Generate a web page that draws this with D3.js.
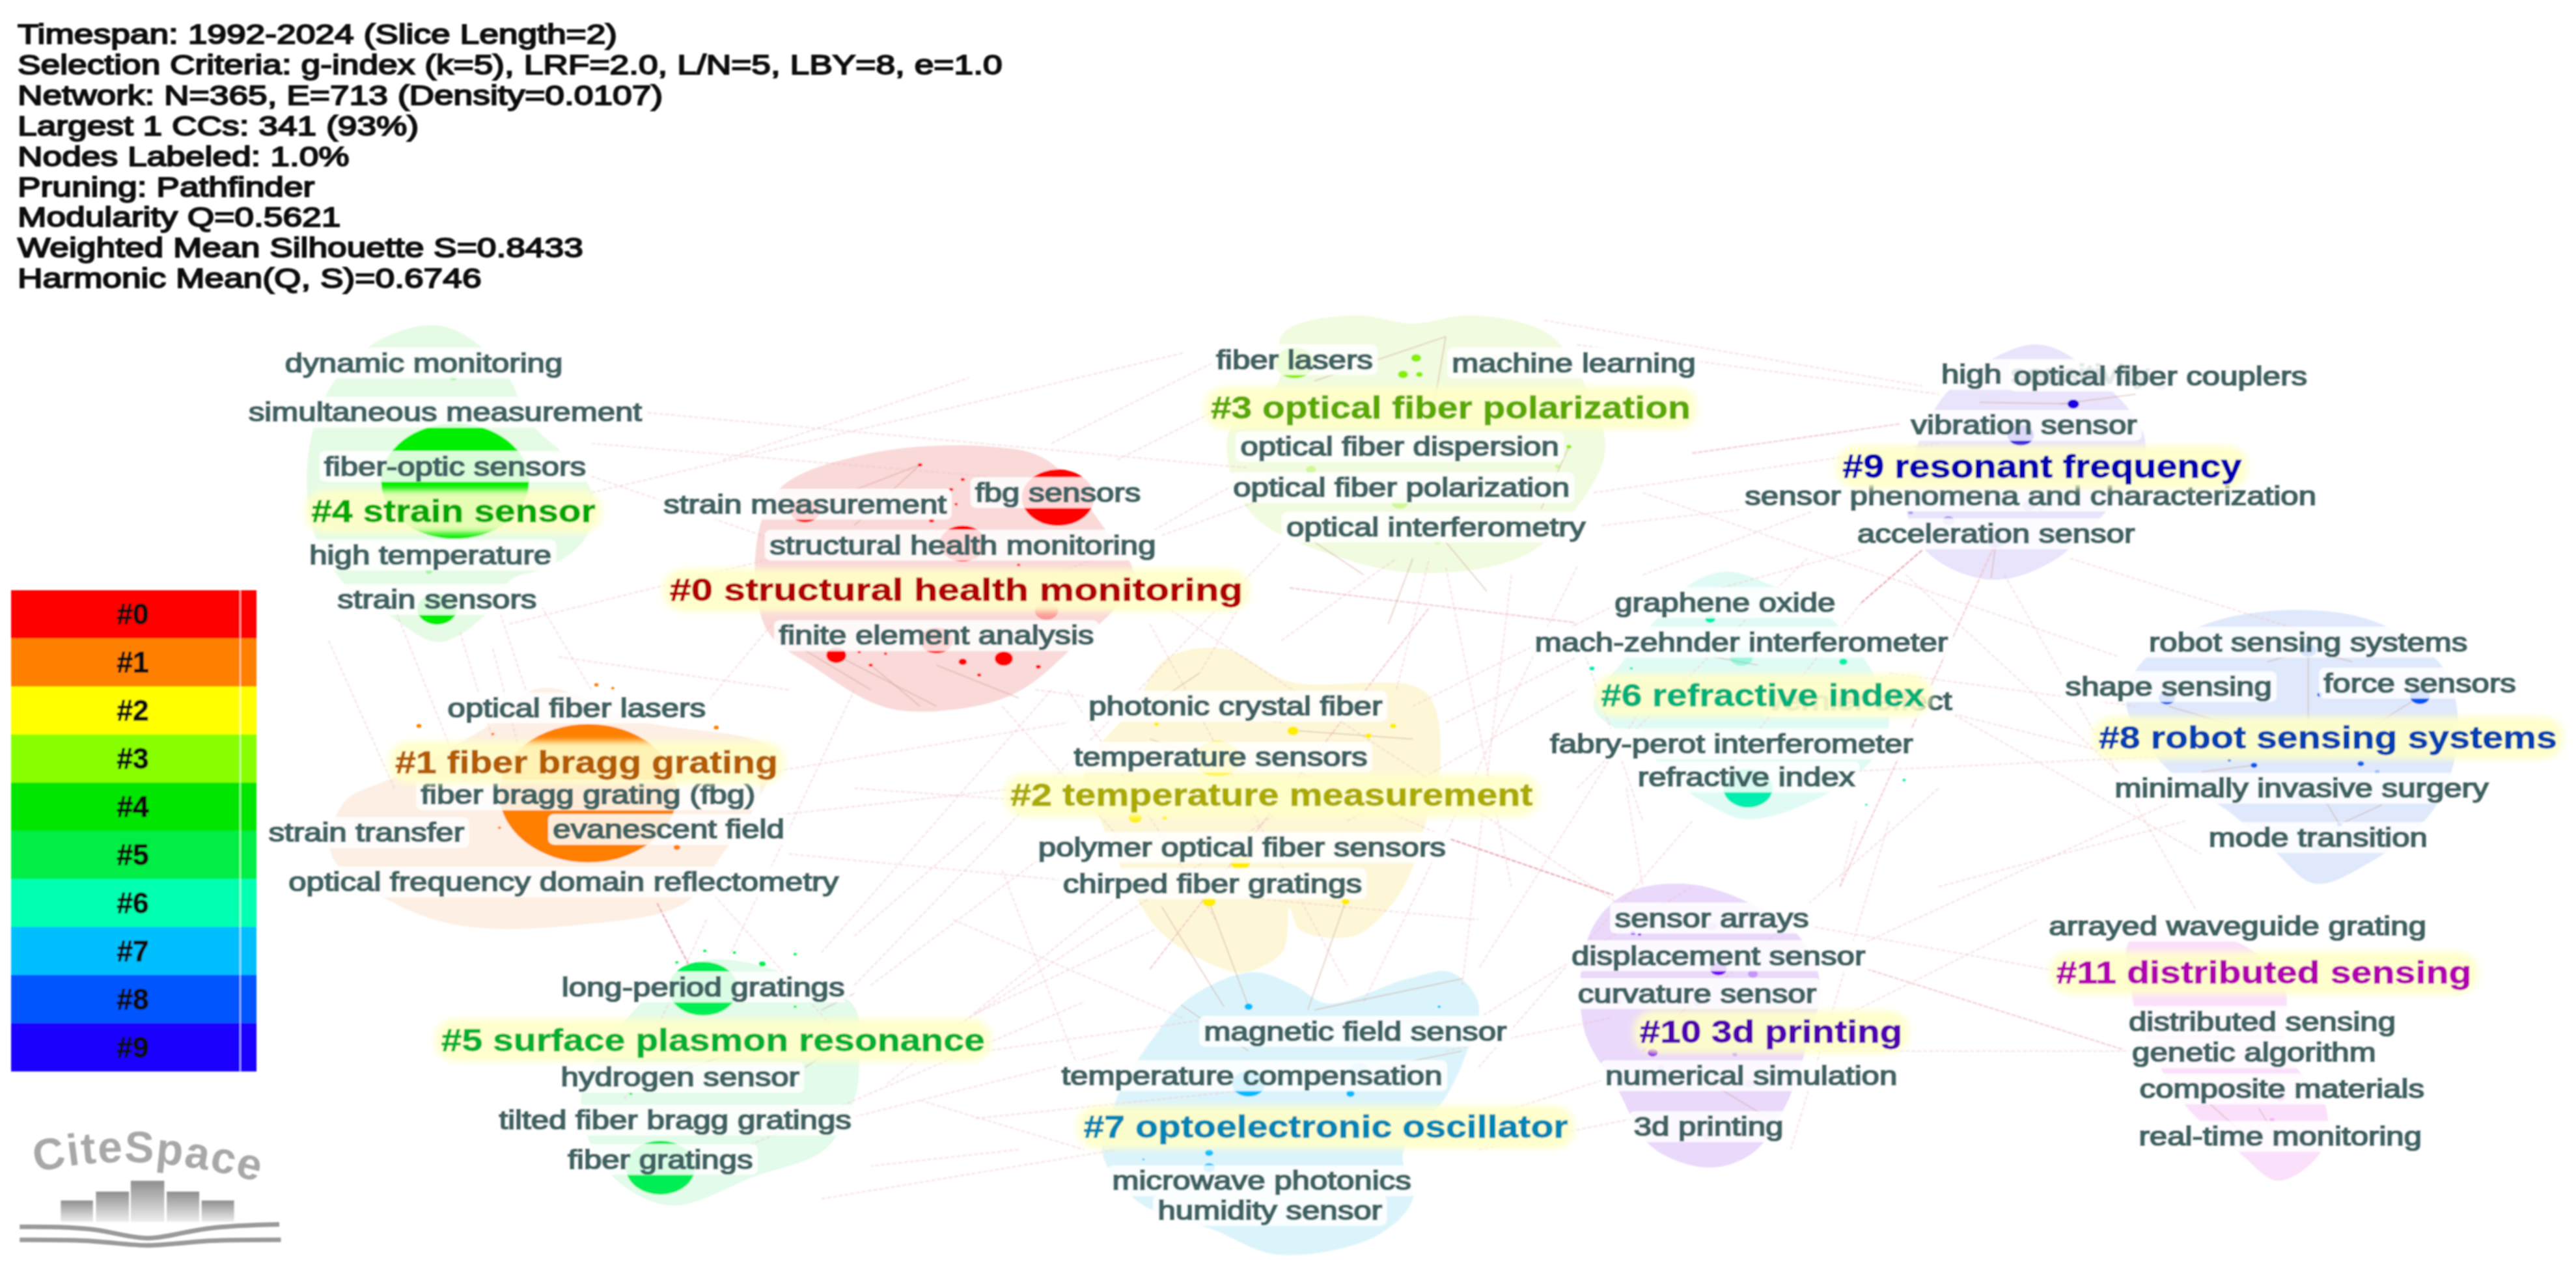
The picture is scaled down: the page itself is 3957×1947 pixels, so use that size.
<!DOCTYPE html>
<html>
<head>
<meta charset="utf-8">
<script src="https://cdn.jsdelivr.net/npm/d3@7"></script>
<style>
  body { margin: 0; background: #fff; }
  text { font-family: "Liberation Sans", Arial, sans-serif; }
</style>
</head>
<body>
<div id="chart"></div>
<script>
// summary lines top left
const summaryLines = [
  'Timespan: 1992-2024 (Slice Length=2)',
  'Selection Criteria: g-index (k=5), LRF=2.0, L/N=5, LBY=8, e=1.0',
  'Network: N=365, E=713 (Density=0.0107)',
  'Largest 1 CCs: 341 (93%)',
  'Nodes Labeled: 1.0%',
  'Pruning: Pathfinder',
  'Modularity Q=0.5621',
  'Weighted Mean Silhouette S=0.8433',
  'Harmonic Mean(Q, S)=0.6746'
]

// legend
const legendLabels = ['#0', '#1', '#2', '#3', '#4', '#5', '#6', '#7', '#8', '#9']
const legendColors = ['#ff0000', '#ff8000', '#ffff00', '#88ff00', '#00e600', '#00ee44', '#00ffb0', '#00bfff', '#0055ff', '#1a00ff']

// cluster colours: node, hull, title
const clusterNode = ['#ff0000', '#ff8000', '#ffee00', '#88ee00', '#00ee00', '#00ee55', '#00eeb0', '#00bbff', '#0055ee', '#1a00dd', '#7700ee', '#dd44dd']
const clusterHull = ['#fad9d9', '#fdefe3', '#fdf7d8', '#f1fbdf', '#e6fbe6', '#e2fbea', '#e0fbf5', '#dbf4fb', '#dfe9fb', '#e9e3fb', '#ead9fb', '#fbe0fb']
const clusterTitleColor = ['#b00000', '#b35c00', '#aaaa00', '#5aa800', '#00a800', '#00b030', '#00b078', '#0085b5', '#0040b0', '#0000b0', '#5000b0', '#b000b0']

// cluster titles (map units: text centre and drawn width)
const clusterTitles = ['#0 structural health monitoring', '#1 fiber bragg grating', '#2 temperature measurement', '#3 optical fiber polarization', '#4 strain sensor', '#5 surface plasmon resonance', '#6 refractive index', '#7 optoelectronic oscillator', '#8 robot sensing systems', '#9 resonant frequency', '#10 3d printing', '#11 distributed sensing']
const clusterTitleX = [582, 357, 774, 883, 276, 434, 1073, 807, 1417, 1243, 1078, 1378]
const clusterTitleY = [359, 464, 484, 248, 311, 633, 423, 686, 449, 284, 628, 592]
const clusterTitleW = [349, 233, 318, 292, 173, 331, 197, 295, 279, 243, 160, 253]

// keyword labels
const keywords = ['dynamic monitoring', 'simultaneous measurement', 'fiber-optic sensors', 'high temperature', 'strain sensors',
  'strain measurement', 'fbg sensors', 'structural health monitoring', 'finite element analysis',
  'optical fiber lasers', 'fiber bragg grating (fbg)', 'strain transfer', 'evanescent field', 'optical frequency domain reflectometry',
  'long-period gratings', 'hydrogen sensor', 'tilted fiber bragg gratings', 'fiber gratings',
  'fiber lasers', 'machine learning', 'optical fiber dispersion', 'optical fiber polarization', 'optical interferometry',
  'photonic crystal fiber', 'temperature sensors', 'polymer optical fiber sensors', 'chirped fiber gratings',
  'graphene oxide', 'mach-zehnder interferometer', 'vernier effect', 'fabry-perot interferometer', 'refractive index',
  'magnetic field sensor', 'temperature compensation', 'microwave photonics', 'humidity sensor',
  'sensor arrays', 'displacement sensor', 'curvature sensor', 'numerical simulation', '3d printing',
  'high sensitivity', 'optical fiber couplers', 'vibration sensor', 'sensor phenomena and characterization', 'acceleration sensor',
  'robot sensing systems', 'shape sensing', 'force sensors', 'minimally invasive surgery', 'mode transition',
  'arrayed waveguide grating', 'distributed sensing', 'genetic algorithm', 'composite materials', 'real-time monitoring']
const keywordX = [258, 271, 277, 262, 266,
  490, 644, 586, 570,
  351, 358, 223, 407, 343,
  428, 414, 411, 402,
  788, 958, 852, 853, 874,
  752, 743, 756, 738,
  1050, 1060, 1132, 1054, 1063,
  825, 762, 768, 773,
  1042, 1046, 1033, 1066, 1040,
  1245, 1315, 1232, 1236, 1215,
  1405, 1320, 1473, 1401, 1411,
  1362, 1377, 1372, 1389, 1388]
const keywordY = [221, 251, 284, 338, 365,
  307, 300, 332, 387,
  431, 484, 507, 505, 537,
  601, 656, 682, 706,
  219, 221, 272, 297, 321,
  430, 461, 516, 538,
  367, 391, 427, 453, 473,
  628, 655, 719, 737,
  559, 582, 605, 655, 686,
  228, 229, 259, 302, 325,
  391, 418, 416, 480, 510,
  564, 622, 641, 663, 692]

// hull outlines, one list per cluster
const hull0 = [[604, 272], [637, 280], [671, 320], [690, 352], [650, 397], [620, 421], [588, 431], [540, 431], [495, 406], [467, 384], [460, 336], [474, 298], [530, 276]]
const hull1 = [[329, 419], [389, 439], [470, 457], [460, 490], [439, 521], [417, 550], [354, 563], [283, 564], [240, 550], [202, 521], [209, 489], [240, 473], [294, 444]]
const hull2 = [[710, 401], [745, 395], [785, 415], [867, 421], [877, 461], [868, 500], [860, 528], [847, 551], [824, 570], [791, 566], [785, 553], [781, 579], [758, 592], [742, 589], [709, 570], [693, 549], [670, 500], [660, 470], [690, 430]]
const hull3 = [[781, 203], [824, 192], [860, 197], [896, 192], [942, 203], [962, 229], [977, 268], [972, 290], [932, 336], [867, 349], [811, 338], [765, 316], [749, 288], [749, 260], [778, 233]]
const hull4 = [[265, 198], [286, 206], [311, 232], [320, 254], [354, 288], [362, 310], [354, 331], [332, 346], [311, 353], [295, 375], [267, 391], [237, 375], [212, 358], [191, 324], [187, 283], [193, 254], [205, 230], [233, 206]]
const hull5 = [[428, 585], [485, 595], [520, 613], [523, 648], [520, 669], [502, 700], [460, 716], [407, 734], [368, 711], [354, 666], [389, 612]]
const hull6 = [[1051, 348], [1075, 355], [1116, 378], [1150, 435], [1140, 462], [1109, 485], [1064, 499], [1040, 490], [1025, 480], [1000, 455], [970, 430], [990, 400], [1010, 375], [1030, 355]]
const hull7 = [[762, 592], [788, 600], [808, 611], [857, 596], [883, 592], [900, 611], [893, 640], [880, 668], [854, 702], [860, 730], [837, 753], [778, 764], [739, 749], [693, 732], [671, 702], [680, 668], [702, 632], [725, 607]]
const hull8 = [[1356, 376], [1438, 376], [1486, 405], [1496, 435], [1493, 467], [1479, 496], [1441, 526], [1409, 538], [1384, 518], [1359, 496], [1318, 467], [1294, 428], [1304, 403]]
const hull9 = [[1243, 210], [1266, 221], [1304, 262], [1304, 285], [1287, 306], [1249, 342], [1212, 353], [1174, 337], [1160, 306], [1181, 244], [1222, 214]]
const hull10 = [[988, 545], [1021, 538], [1054, 545], [1095, 570], [1108, 600], [1100, 636], [1087, 673], [1067, 702], [1040, 711], [1005, 698], [985, 664], [964, 626], [967, 570]]
const hull11 = [[1297, 572], [1360, 573], [1390, 600], [1392, 640], [1416, 675], [1413, 701], [1387, 719], [1362, 701], [1330, 673], [1308, 636], [1298, 608]]
const hulls = [hull0, hull1, hull2, hull3, hull4, hull5, hull6, hull7, hull8, hull9, hull10, hull11]

// nodes
const nodeCluster = [0, 0, 0, 0, 0, 0, 0, 0, 0, 0, 0, 0, 0, 0, 0, 0, 0, 0,
  1, 1, 1, 1, 1, 1, 1, 1,
  2, 2, 2, 2, 2, 2, 2, 2, 2, 2,
  3, 3, 3, 3, 3,
  4, 4,
  5, 5, 5, 5, 5, 5, 5, 5, 5, 5,
  6, 6, 6, 6, 6, 6, 6,
  7, 7, 7, 7, 7, 7, 7,
  8, 8, 8, 8, 8, 8, 8, 8,
  9, 9,
  10, 10, 10, 10,
  11]
const nodeX = [644, 490, 586, 570, 509, 611, 586, 632, 596, 523, 539, 530, 560, 586, 579, 582, 567, 620,
  358, 363, 373, 255, 436, 300, 304, 412,
  741, 704, 787, 833, 848, 691, 709, 736, 819, 755,
  788, 862, 854, 864, 955,
  277, 266,
  428, 402, 429, 447, 484, 412, 464, 484, 515, 384,
  1064, 1041, 969, 993, 1122, 1159, 1136,
  760, 760, 876, 822, 736, 696, 736,
  1405, 1319, 1473, 1412, 1357, 1372, 1437, 1424,
  1262, 1230,
  994, 998, 1006, 1046,
  1388]
const nodeY = [303, 311, 331, 390, 399, 401, 403, 406, 411, 397, 398, 405, 283, 292, 298, 307, 317, 344,
  483, 417, 419, 442, 443, 447, 504, 516,
  462, 441, 445, 448, 442, 498, 498, 549, 549, 525,
  221, 218, 228, 228, 272,
  293, 371,
  602, 711, 579, 580, 581, 586, 587, 613, 609, 666,
  480, 377, 407, 407, 403, 475, 490,
  613, 660, 613, 666, 702, 706, 711,
  396, 425, 424, 423, 463, 466, 465, 502,
  246, 265,
  568, 569, 641, 590,
  668]
const nodeR = [22, 9, 14, 10, 6, 5.5, 2.5, 1.5, 1.2, 1, 1, 1.2, 1.3, 1.2, 1.2, 1, 1.5, 1,
  54, 1.3, 1, 1.5, 1.5, 1, 1, 2,
  14, 1.5, 3.5, 2, 2, 4, 1.5, 4, 2.5, 6,
  12, 3, 3, 2, 1.5,
  45, 12,
  21, 21, 1, 1, 1, 1, 2, 1, 1, 1,
  15, 3, 1.5, 1, 2.5, 1, 0.7,
  2.5, 10, 1, 2.5, 2.5, 0.7, 3.5,
  5, 5, 6, 1.5, 1, 2, 2, 1.5,
  3.5, 8,
  1.5, 1, 3, 5,
  3]

// faded nodes seen through the haze
const paleCluster = [0, 3, 3, 3, 3, 4, 4, 4, 6, 7, 7, 8, 8, 8, 9, 9, 9, 9, 9, 9, 10, 10, 10, 10, 10, 10, 10, 10, 10, 11, 11, 11, 11]
const paleX = [637, 852, 798, 948, 875, 276, 256, 261, 1060, 824, 827, 1400, 1410, 1447, 1235, 1242, 1163, 1186, 1215, 1316, 1042, 1067, 1065, 1009, 1011, 985, 1033, 1039, 1056, 1362, 1376, 1383, 1388]
const paleY = [372, 306, 286, 284, 330, 230, 227, 348, 400, 632, 651, 485, 516, 470, 308, 310, 312, 317, 330, 235, 564, 593, 660, 661, 650, 610, 611, 692, 642, 569, 625, 682, 696]
const paleR = [7, 5, 3, 1.5, 2, 2, 2, 2, 7, 4, 5, 3, 3, 1.5, 4, 1.5, 1.5, 3.5, 5, 3, 3, 3, 3, 2, 2, 2, 2, 2.5, 1.5, 2, 3, 1.5, 2]

// edges, map units: x1, y1, x2, y2
const edgesStrong = [
  [883, 511, 982, 545], [400, 550, 419, 587], [1170, 335, 1133, 367]
]
const edgesMedium = [
  [785, 358, 958, 379], [1136, 590, 1292, 639], [1030, 276, 1157, 258], [700, 590, 870, 370], [1215, 330, 1120, 540]
]
const edgesLong = [
  [790, 470, 883, 511], [1133, 367, 1050, 470], [594, 617, 703, 566], [594, 681, 758, 664], [958, 379, 1000, 500],
  [360, 270, 600, 290], [380, 250, 760, 285], [360, 290, 475, 330], [310, 380, 470, 340],
  [320, 420, 300, 360], [360, 420, 330, 370], [445, 580, 520, 420], [500, 580, 640, 420],
  [540, 660, 700, 530], [530, 600, 650, 510], [520, 680, 680, 640], [620, 700, 530, 710],
  [780, 390, 850, 340], [850, 420, 870, 340], [920, 540, 880, 345], [1000, 350, 1160, 290],
  [970, 300, 1180, 270], [975, 320, 1150, 300], [1150, 330, 1040, 360], [1130, 420, 1290, 460],
  [1150, 410, 1300, 430], [1120, 470, 1330, 460], [1180, 480, 1000, 640], [1120, 540, 1130, 500],
  [900, 620, 1030, 540], [880, 640, 980, 620], [905, 680, 1000, 650], [1110, 640, 1300, 640],
  [1100, 590, 1340, 480], [1160, 350, 1300, 480], [630, 420, 780, 440], [640, 350, 780, 300],
  [690, 330, 760, 290], [650, 420, 740, 560], [610, 430, 690, 520], [860, 430, 1000, 360],
  [820, 500, 960, 420], [880, 440, 960, 400], [520, 480, 660, 490], [440, 500, 620, 480],
  [470, 470, 650, 440], [430, 540, 520, 640], [600, 640, 740, 620],
  [520, 600, 780, 330], [560, 640, 800, 480], [580, 560, 720, 620], [610, 530, 660, 660],
  [480, 520, 900, 560], [680, 350, 1000, 560], [700, 380, 820, 600], [760, 360, 730, 410],
  [920, 350, 890, 600], [960, 345, 830, 610], [1000, 430, 900, 590], [1030, 500, 900, 650],
  [990, 480, 1000, 540], [960, 480, 1100, 340], [1150, 500, 1090, 700], [1180, 430, 1340, 520],
  [1220, 350, 1340, 560], [1260, 340, 1420, 390], [1080, 560, 1300, 600], [1120, 620, 1240, 560],
  [1180, 540, 1330, 500], [1000, 300, 1290, 400], [960, 210, 1180, 240], [940, 195, 1170, 235],
  [680, 280, 760, 240], [640, 270, 740, 220], [440, 280, 590, 230], [360, 300, 720, 215],
  [340, 400, 480, 420], [420, 440, 470, 380], [200, 390, 240, 480], [300, 395, 330, 510],
  [240, 370, 280, 470], [280, 385, 300, 450], [430, 560, 380, 670], [520, 570, 600, 500],
  [450, 700, 660, 610], [500, 730, 680, 700], [560, 670, 660, 700], [900, 700, 1000, 680]
]
const edgesInner = [
  [880, 205, 872, 252], [880, 205, 800, 232], [955, 272, 938, 310], [880, 330, 905, 360], [860, 340, 845, 380], [800, 330, 830, 350],
  [736, 549, 760, 613], [707, 552, 745, 613], [819, 549, 796, 615], [700, 430, 730, 410], [700, 450, 760, 470], [790, 445, 860, 450],
  [719, 612, 760, 640], [760, 628, 880, 620], [800, 615, 890, 596], [840, 650, 890, 640],
  [1254, 246, 1300, 240], [1205, 245, 1262, 246], [1215, 330, 1212, 352],
  [1380, 403, 1405, 396], [1405, 396, 1432, 403], [1405, 396, 1405, 445], [1320, 430, 1370, 445], [1440, 445, 1473, 424],
  [1415, 487, 1424, 502], [1424, 502, 1450, 490], [1372, 466, 1340, 470],
  [1043, 400, 1070, 405], [1000, 445, 1050, 445], [390, 660, 450, 640], [490, 650, 520, 630], [500, 615, 520, 605],
  [520, 320, 560, 283], [490, 310, 560, 283], [509, 399, 570, 430], [530, 405, 560, 430], [570, 405, 620, 425], [480, 390, 530, 420],
  [1040, 600, 1000, 640], [1042, 660, 1075, 680], [1375, 675, 1388, 696], [1345, 672, 1365, 690]
]

const W = 3957
const H = 1947
const stretch = 1.23 // the whole source picture was pulled wider, text included
// map units are the picture at 1568 wide
const x = d3.scaleLinear().domain([0, 1568]).range([0, W])
const y = d3.scaleLinear().domain([0, 771.5]).range([0, H])

const svg = d3.select('#chart')
  .append('svg')
  .attr('width', W)
  .attr('height', H)
  .style('display', 'block')
  .style('background', '#fff')

const defs = svg.append('defs')
defs.append('filter').attr('id', 'soft').append('feGaussianBlur').attr('stdDeviation', 1.1)
const glow = defs.append('filter').attr('id', 'glow')
  .attr('x', '-10%').attr('y', '-30%').attr('width', '120%').attr('height', '160%')
glow.append('feGaussianBlur').attr('stdDeviation', 5)
const barGrad = defs.append('linearGradient').attr('id', 'bar').attr('x1', 0).attr('x2', 0).attr('y1', 0).attr('y2', 1)
barGrad.append('stop').attr('offset', 0).attr('stop-color', '#8f8f8f')
barGrad.append('stop').attr('offset', 1).attr('stop-color', '#eeeeee')

const root = svg.append('g').attr('filter', 'url(#soft)')

// hulls
const hullLine = d3.line().x(d => x(d[0])).y(d => y(d[1])).curve(d3.curveCatmullRomClosed.alpha(0.5))
root.append('g').selectAll('path').data(hulls).join('path')
  .attr('d', d => hullLine(d))
  .attr('fill', (d, i) => clusterHull[i])

// edges
function drawEdges(data, color, width, dash, op) {
  root.append('g').selectAll('line').data(data).join('line')
    .attr('x1', d => x(d[0])).attr('y1', d => y(d[1]))
    .attr('x2', d => x(d[2])).attr('y2', d => y(d[3]))
    .attr('stroke', color)
    .attr('stroke-width', width)
    .attr('stroke-dasharray', dash)
    .attr('opacity', op)
}
drawEdges(edgesLong, '#f0bcc4', 2.4, '6 3', 0.42)
drawEdges(edgesMedium, '#f0bcc4', 2.4, '7 2', 0.7)
drawEdges(edgesStrong, '#e79aa8', 2.5, '7 2', 0.8)
drawEdges(edgesInner, '#c89a88', 2, null, 0.4)

// nodes, the source picture is wider than tall so they come out as ellipses
function drawNodes(radii, cluster, xs, ys, op) {
  root.append('g').selectAll('ellipse').data(radii).join('ellipse')
    .attr('cx', (d, i) => x(xs[i]))
    .attr('cy', (d, i) => y(ys[i]))
    .attr('rx', d => x(d))
    .attr('ry', d => x(d) * 0.78)
    .attr('fill', (d, i) => clusterNode[cluster[i]])
    .attr('opacity', op)
}
drawNodes(paleR, paleCluster, paleX, paleY, 0.3)
drawNodes(nodeR, nodeCluster, nodeX, nodeY, 1)

// keyword labels
const labelSize = 40
const labels = root.append('g')
keywords.forEach((k, i) => {
  const g = labels.append('g')
    .attr('transform', `translate(${x(keywordX[i])},${y(keywordY[i])}) scale(${stretch},1)`)
  const t = g.append('text')
    .attr('text-anchor', 'middle')
    .attr('dominant-baseline', 'central')
    .attr('font-size', labelSize)
    .attr('fill', '#3f6364')
    .attr('stroke', '#3f6364')
    .attr('stroke-width', 2.1)
    .text(k)
  const b = t.node().getBBox()
  g.insert('rect', 'text')
    .attr('x', b.x - 6).attr('y', b.y - 1)
    .attr('width', b.width + 12).attr('height', b.height + 2)
    .attr('rx', 8)
    .attr('fill', '#fff')
    .attr('opacity', 0.85)
})

// cluster titles, each stretched to the width it has in the picture
const titleSize = 49
const titles = root.append('g')
clusterTitles.forEach((k, i) => {
  const g = titles.append('g')
  const t = g.append('text')
    .attr('text-anchor', 'middle')
    .attr('dominant-baseline', 'central')
    .attr('font-size', titleSize)
    .attr('font-weight', 'bold')
    .attr('fill', clusterTitleColor[i])
    .attr('stroke', clusterTitleColor[i])
    .attr('stroke-width', 0.8)
    .text(k)
  const b = t.node().getBBox()
  const sx = x(clusterTitleW[i]) / b.width
  g.attr('transform', `translate(${x(clusterTitleX[i])},${y(clusterTitleY[i])}) scale(${sx},1)`)
  g.insert('rect', 'text')
    .attr('x', b.x - 8).attr('y', b.y - 5)
    .attr('width', b.width + 16).attr('height', b.height + 12)
    .attr('rx', 28)
    .attr('fill', '#ffffc8')
    .attr('opacity', 0.9)
    .attr('filter', 'url(#glow)')
})

// summary text
root.append('g').selectAll('text').data(summaryLines).join('text')
  .attr('transform', (d, i) => `translate(27,${67 + i * 46.9}) scale(1.24,1)`)
  .attr('font-size', 43)
  .attr('fill', '#111')
  .attr('stroke', '#111')
  .attr('stroke-width', 2)
  .text(d => d)

// legend
const legendY = d3.scaleBand().domain(legendLabels).range([907, 1646])
const legend = root.append('g')
legend.selectAll('rect').data(legendLabels).join('rect')
  .attr('x', 17)
  .attr('y', d => legendY(d))
  .attr('width', 377)
  .attr('height', legendY.bandwidth() + 0.5)
  .attr('fill', (d, i) => legendColors[i])
legend.append('line')
  .attr('x1', 369).attr('x2', 369).attr('y1', 907).attr('y2', 1646)
  .attr('stroke', '#fff').attr('stroke-width', 2).attr('opacity', 0.6)
legend.selectAll('text').data(legendLabels).join('text')
  .attr('x', 204)
  .attr('y', d => legendY(d) + legendY.bandwidth() / 2)
  .attr('text-anchor', 'middle')
  .attr('dominant-baseline', 'central')
  .attr('font-size', 44)
  .attr('font-weight', 'bold')
  .attr('fill', '#111')
  .attr('stroke', '#111')
  .text(d => d)

// logo
const logoBarLeft = [37, 58.4, 79.6, 101.5, 122.7]
const logoBarRight = [56.6, 78.5, 100, 121.3, 142.5]
const logoBarTop = [731, 725.6, 719, 725.6, 731]
const logo = root.append('g')
defs.append('path').attr('id', 'logoArc')
  .attr('d', `M${x(22)},${y(714)} Q${x(85)},${y(698)} ${x(165)},${y(722)}`)
logo.append('text')
  .attr('font-size', 68)
  .attr('font-weight', 'bold')
  .attr('letter-spacing', 2)
  .attr('fill', '#a8a8a8')
  .append('textPath')
  .attr('href', '#logoArc')
  .text('CiteSpace')
logo.selectAll('rect').data(logoBarTop).join('rect')
  .attr('x', (d, i) => x(logoBarLeft[i]))
  .attr('width', (d, i) => x(logoBarRight[i]) - x(logoBarLeft[i]))
  .attr('y', d => y(d))
  .attr('height', d => y(744) - y(d))
  .attr('fill', 'url(#bar)')
const bookTop = [[12, 747], [60, 747], [90, 757.4], [120, 747], [170, 745.5]]
const bookBottom = [[12, 755], [60, 755], [90, 760], [120, 755], [171, 755]]
const bookLine = d3.line().x(d => x(d[0])).y(d => y(d[1])).curve(d3.curveBasis)
logo.selectAll('path').data([bookTop, bookBottom]).join('path')
  .attr('d', d => bookLine(d))
  .attr('fill', 'none')
  .attr('stroke', '#9a9a9a')
  .attr('stroke-width', 7)
</script>
</body>
</html>
